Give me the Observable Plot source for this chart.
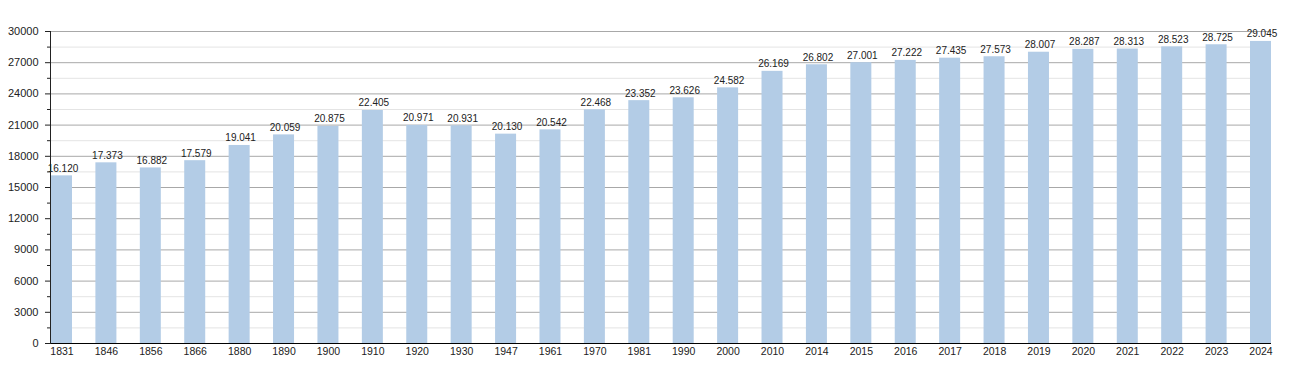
<!DOCTYPE html>
<html><head><meta charset="utf-8">
<script src="https://cdn.jsdelivr.net/npm/d3@7"></script>
<script src="https://cdn.jsdelivr.net/npm/@observablehq/plot@0.6"></script>
<style>body{margin:0;background:#fff} svg{font-family:"Liberation Sans",Arial,sans-serif}</style>
</head><body><div id="chart"></div>
<script>
const years = ["1831","1846","1856","1866","1880","1890","1900","1910","1920","1930","1947","1961","1970","1981","1990","2000","2010","2014","2015","2016","2017","2018","2019","2020","2021","2022","2023","2024"];
const population = [16120,17373,16882,17579,19041,20059,20875,22405,20971,20931,20130,20542,22468,23352,23626,24582,26169,26802,27001,27222,27435,27573,28007,28287,28313,28523,28725,29045];
const majorTicks = [0,3000,6000,9000,12000,15000,18000,21000,24000,27000,30000];
const minorTicks = [1500,4500,7500,10500,13500,16500,19500,22500,25500,28500];

const data = years.map((y, i) => ({year: y, value: population[i]}));
const fmt = d3.formatLocale({decimal: ",", thousands: ".", grouping: [3], currency: ["", "€"]}).format(",d");

const chart = Plot.plot({
  width: 1300, height: 373,
  marginTop: 31, marginBottom: 30, marginLeft: 50, marginRight: 29,
  style: {fontFamily: "'Liberation Sans', Arial, sans-serif", fontSize: "11px", color: "#222", background: "#fff"},
  x: {type: "band", domain: years, range: [51, 1271], paddingInner: 0.527, paddingOuter: 0, round: false, align: 0},
  y: {domain: [0, 30000], range: [343, 31]},
  marks: [
    Plot.gridY(minorTicks, {stroke: "#e4e4e4", strokeOpacity: 1}),
    Plot.gridY(majorTicks, {stroke: "#a8a8a8", strokeOpacity: 1}),
    Plot.barY(data, {x: "year", y: "value", fill: "#b3cce6"}),
    Plot.text(data, {x: "year", y: "value", text: d => fmt(d.value), lineAnchor: "bottom", dy: -4, dx: 1, fontSize: 10, fill: "#222"}),
    Plot.axisY(majorTicks, {tickSize: 5, tickPadding: 7, tickFormat: d => String(d), fontSize: 11, label: null}),
    Plot.axisY(minorTicks, {tickSize: 3, tickFormat: () => "", label: null}),
    Plot.axisX({tickSize: 0, tickPadding: 4, label: null, fontSize: 10.5}),
    Plot.ruleY([0], {stroke: "#000"}),
    Plot.frame({anchor: "left"})
  ]
});
document.getElementById("chart").append(chart);
</script>
</body></html>
